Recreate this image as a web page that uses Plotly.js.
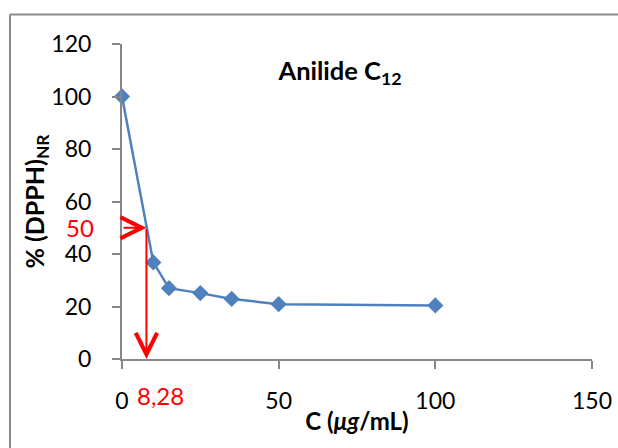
<!DOCTYPE html>
<html>
<head>
<meta charset="utf-8">
<script src="https://cdn.plot.ly/plotly-3.0.1.min.js"></script>
<style>
  html, body { margin: 0; padding: 0; background: #fff; }
  #chart { width: 618px; height: 448px; }
</style>
</head>
<body>
<div id="chart"></div>
<script>
// ---- data ----
const concentration = [0, 10, 15, 25, 35, 50, 100];
const dpphRemaining = [100, 36.8, 27.0, 25.1, 22.9, 20.9, 20.4];
const xTickVals = [0, 50, 100, 150];
const yTickVals = [0, 20, 40, 60, 80, 100, 120];
const halfLevel = 50;          // 50 % line
const ic50Position = 7.8;      // where the red arrow is drawn
const ic50Label = "8,28";      // label printed on the chart
const chartTitle = "<b>Anilide C<sub>12</sub></b>";
const xTitle = "<b>C (<i>μg</i>/mL)</b>";
const yTitle = "<b>% (DPPH)<sub>NR</sub></b>";

const FONT = "Lato, 'Open Sans', 'DejaVu Sans', sans-serif";
const AXIS_COLOR = "#868686";
const SERIES_COLOR = "#4F81BD";
const RED = "#FF0000";

const trace = {
  x: concentration,
  y: dpphRemaining,
  type: "scatter",
  mode: "lines+markers",
  line: { color: SERIES_COLOR, width: 2.5 },
  marker: { symbol: "diamond", size: 12.5, color: SERIES_COLOR },
  cliponaxis: false,
  hoverinfo: "x+y"
};

const layout = {
  width: 618,
  height: 448,
  margin: { l: 122, r: 26, t: 44, b: 89 },
  paper_bgcolor: "#ffffff",
  plot_bgcolor: "#ffffff",
  showlegend: false,
  font: { family: FONT, size: 23, color: "#000000" },
  title: {
    text: chartTitle,
    font: { family: FONT, size: 25.5, color: "#000000" },
    xref: "paper", x: 0.464, xanchor: "center",
    yref: "container", y: 1 - 71 / 448, yanchor: "middle"
  },
  xaxis: {
    range: [0, 150],
    tickvals: xTickVals,
    ticktext: xTickVals.map(String),
    showgrid: false, zeroline: false,
    showline: true, linecolor: AXIS_COLOR, linewidth: 2,
    ticks: "outside", ticklen: 8, tickwidth: 2, tickcolor: AXIS_COLOR,
    ticklabelstandoff: 12,
    tickfont: { family: FONT, size: 23, color: "#000000" },
    title: { text: xTitle, font: { family: FONT, size: 24, color: "#000000" }, standoff: 1 },
    automargin: false
  },
  yaxis: {
    range: [0, 120],
    tickvals: yTickVals,
    ticktext: yTickVals.map(String),
    showgrid: false, zeroline: false,
    showline: true, linecolor: AXIS_COLOR, linewidth: 2,
    ticks: "outside", ticklen: 8, tickwidth: 2, tickcolor: AXIS_COLOR,
    ticklabelstandoff: 16,
    tickfont: { family: FONT, size: 23, color: "#000000" },
    title: { text: yTitle, font: { family: FONT, size: 25, color: "#000000" }, standoff: 0 },
    automargin: false
  },
  shapes: [
    { type: "line", xref: "paper", yref: "paper",
      x0: (10 - 122) / 470, x1: (10 - 122) / 470, y0: -0.6, y1: (359 - 14.5) / 315,
      line: { color: "#8C8C8C", width: 2 } },
    { type: "line", xref: "paper", yref: "paper",
      x0: (10 - 122) / 470, x1: 1.2, y0: (359 - 14.5) / 315, y1: (359 - 14.5) / 315,
      line: { color: "#8C8C8C", width: 2 } }
  ],
  annotations: [
    // horizontal arrow at 50 %
    { x: ic50Position, y: halfLevel, xref: "x", yref: "y",
      ax: 0, ay: halfLevel, axref: "x", ayref: "y",
      text: "", showarrow: true, arrowhead: 5, arrowsize: 2.1, arrowwidth: 2, arrowcolor: RED },
    // vertical arrow down to the x axis
    { x: ic50Position, y: 0, xref: "x", yref: "y",
      ax: ic50Position, ay: halfLevel, axref: "x", ayref: "y",
      text: "", showarrow: true, arrowhead: 5, arrowsize: 2.1, arrowwidth: 2, arrowcolor: RED },
    // red "50" label on y axis
    { x: 0, y: halfLevel, xref: "paper", yref: "y", xanchor: "right", yanchor: "middle",
      xshift: -26, text: String(halfLevel), showarrow: false,
      font: { family: FONT, size: 24, color: RED } },
    // red "8,28" label under x axis
    { x: ic50Position, y: 0, xref: "x", yref: "paper", xanchor: "left", yanchor: "middle",
      xshift: -11, yshift: -36, text: ic50Label, showarrow: false,
      font: { family: FONT, size: 24, color: RED } }
  ]
};

Plotly.newPlot("chart", [trace], layout, { displayModeBar: false, staticPlot: true });
</script>
</body>
</html>
